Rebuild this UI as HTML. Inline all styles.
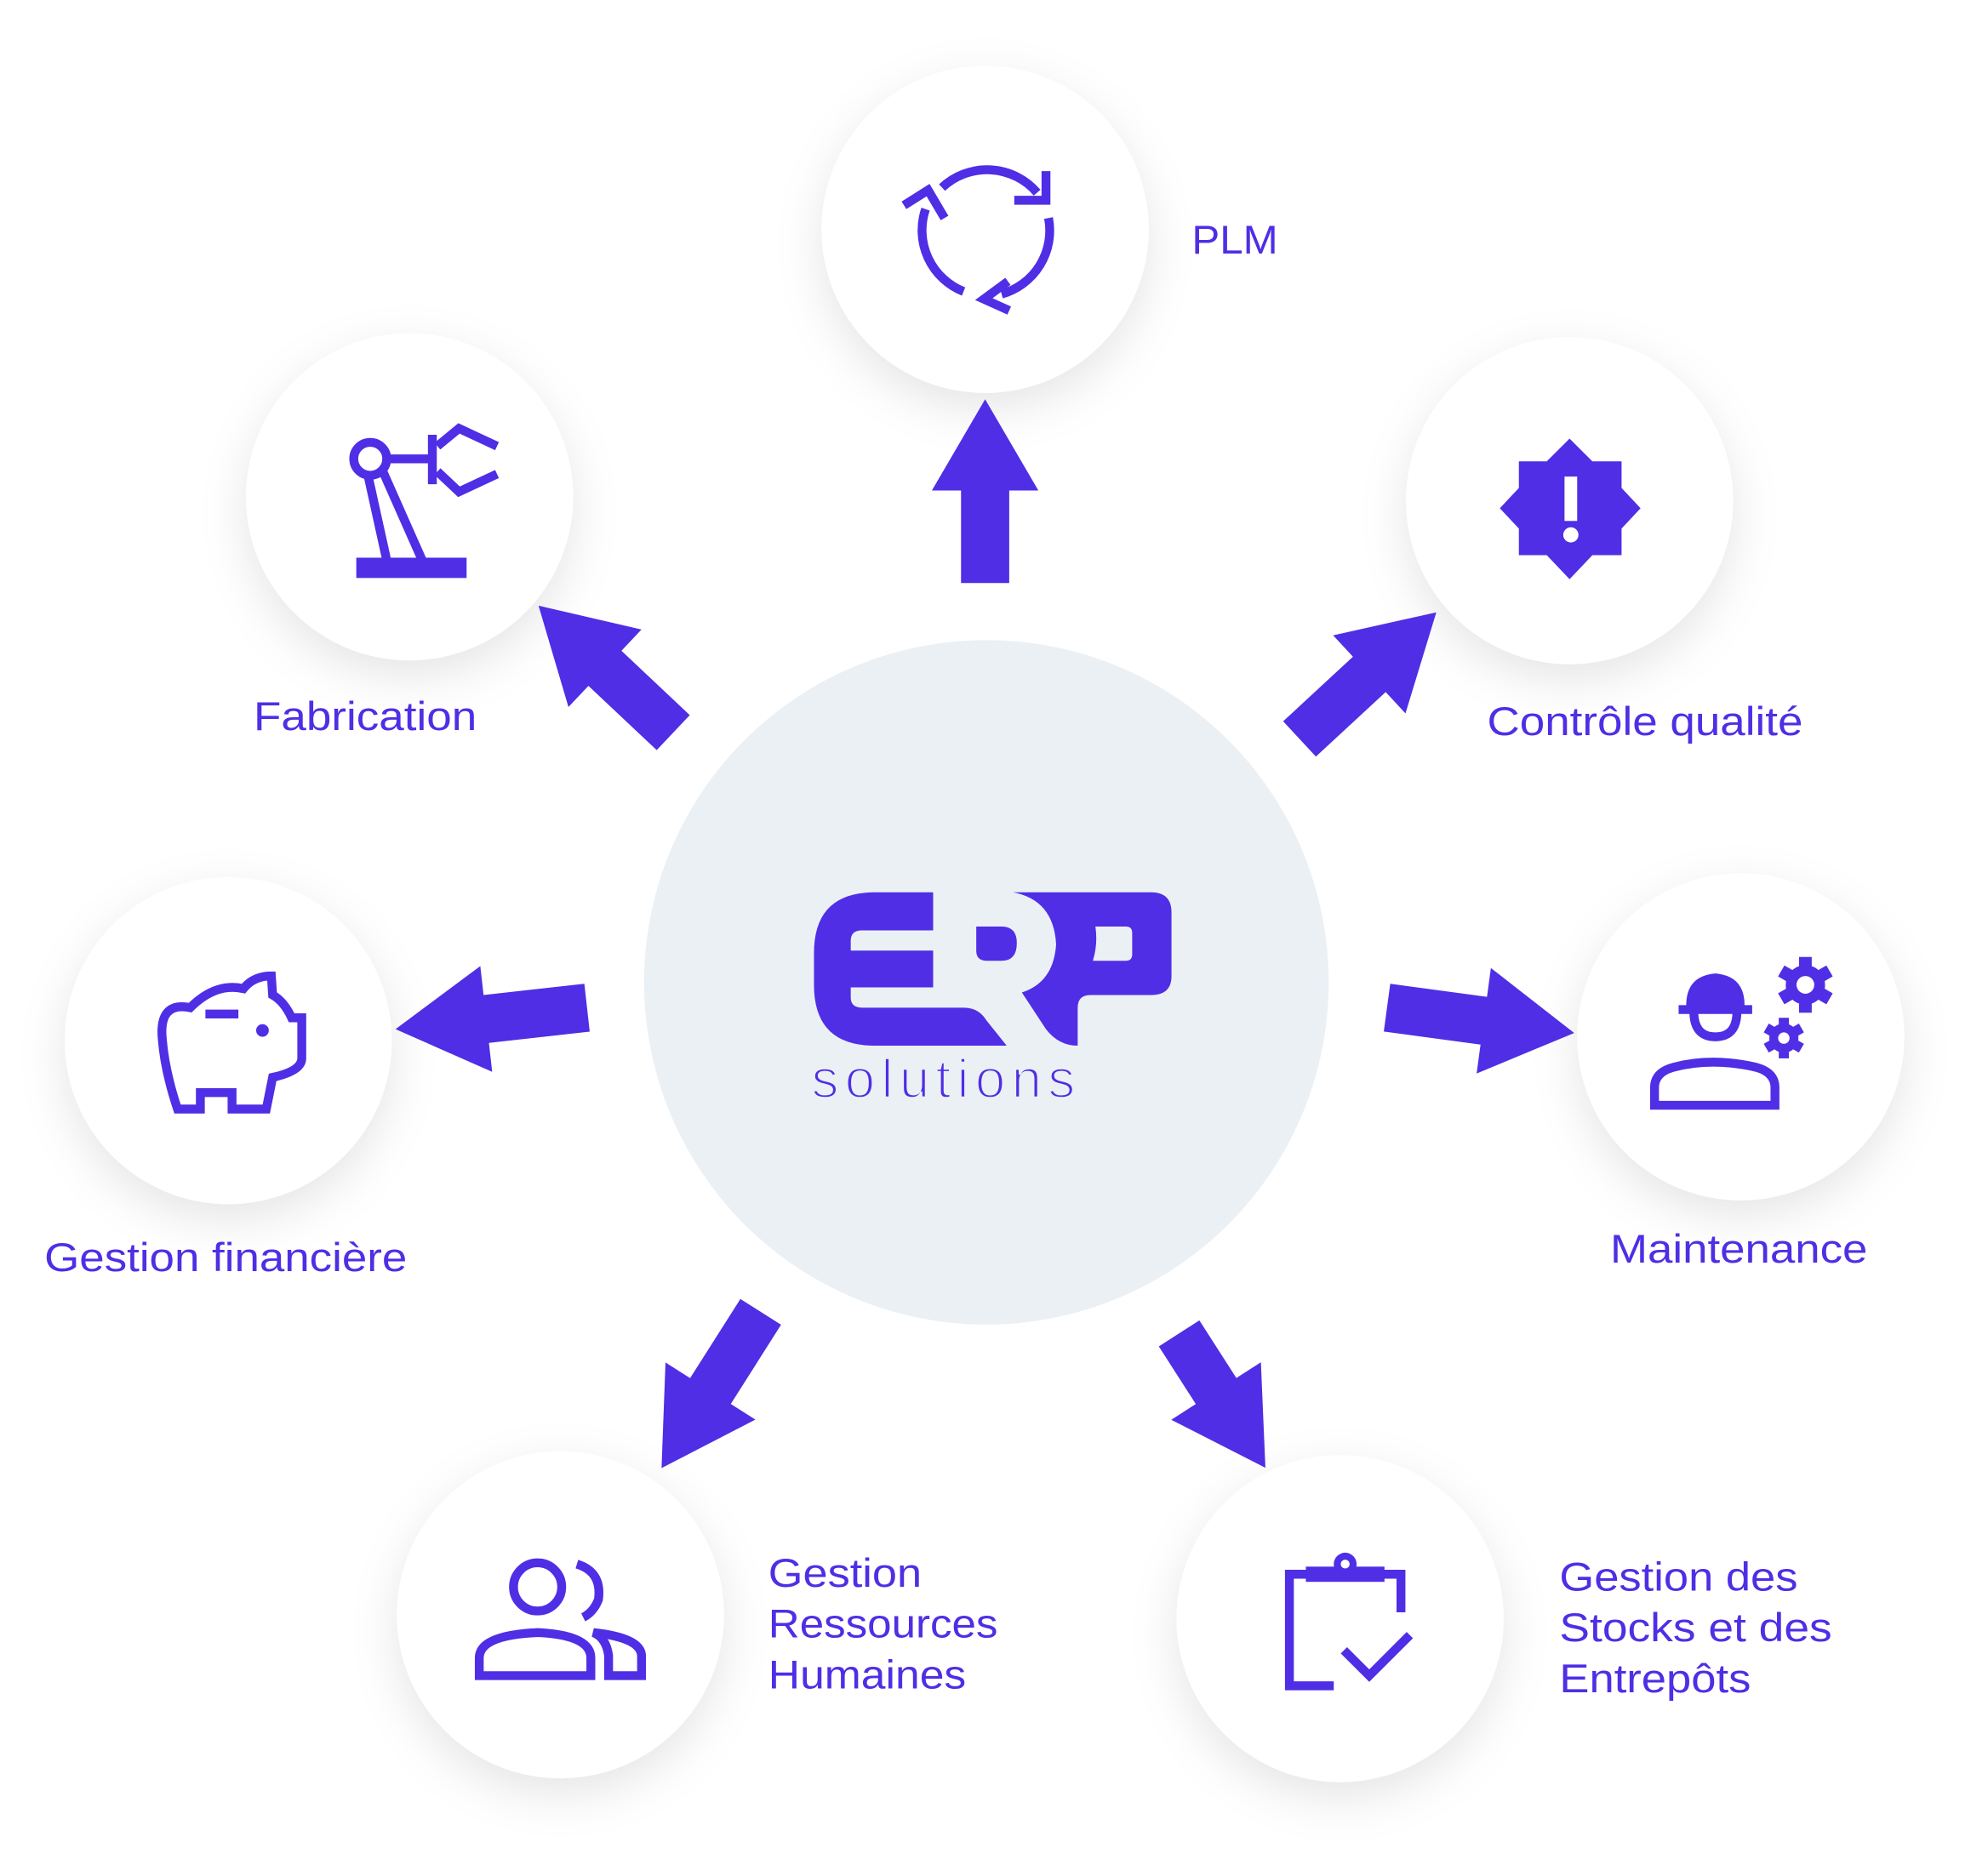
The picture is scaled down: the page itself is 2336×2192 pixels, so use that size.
<!DOCTYPE html>
<html><head><meta charset="utf-8"><style>
html,body{margin:0;padding:0;background:#fff;}
svg{display:block;}
text{font-family:"Liberation Sans",sans-serif;fill:#4F2EE5;}
</style></head><body>
<svg width="2336" height="2192" viewBox="0 0 1568 1471.4" xmlns="http://www.w3.org/2000/svg">
<defs>
<filter id="sh" x="-50%" y="-50%" width="200%" height="200%">
<feDropShadow dx="0" dy="12" stdDeviation="18" flood-color="#000" flood-opacity="0.10"/>
</filter>
</defs>
<circle cx="778" cy="775" r="270" fill="#EBF0F5"/>
<g fill="#fff" filter="url(#sh)">
<circle cx="777" cy="181" r="129"/>
<circle cx="323" cy="392" r="129"/>
<circle cx="1238" cy="395" r="129"/>
<circle cx="180" cy="821" r="129"/>
<circle cx="1373" cy="818" r="129"/>
<circle cx="442" cy="1274" r="129"/>
<circle cx="1057" cy="1277" r="129"/>
</g>
<g fill="#4F2EE5">
<g transform="translate(777,460) rotate(-90)"><polygon points="0,-19 73,-19 73,-42 145,0 73,42 73,19 0,19"/></g>
<g transform="translate(531,578) rotate(-136.7)"><polygon points="0,-19 74,-19 74,-42 146,0 74,42 74,19 0,19"/></g>
<g transform="translate(1025,583) rotate(-42.8)"><polygon points="0,-19 75,-19 75,-42 147,0 75,42 75,19 0,19"/></g>
<g transform="translate(463,795) rotate(173.6)"><polygon points="0,-19 80,-19 80,-42 152,0 80,42 80,19 0,19"/></g>
<g transform="translate(1094,795) rotate(7.7)"><polygon points="0,-19 77,-19 77,-42 149,0 77,42 77,19 0,19"/></g>
<g transform="translate(600,1035) rotate(122.4)"><polygon points="0,-19 74,-19 74,-42 146,0 74,42 74,19 0,19"/></g>
<g transform="translate(930,1052) rotate(57.3)"><polygon points="0,-19 54,-19 54,-42 126,0 54,42 54,19 0,19"/></g>
</g>
<g fill="#4F2EE5">
<path d="M690 704 H736 V734 H680 Q671 734 671 742 V750 H736 V779 H671 V787 Q671 795 680 795 H760 Q772 795 778 805 L794 825 H690 Q642 825 642 777 V752 Q642 704 690 704 Z"/>
<path d="M770 731 H790 Q802 731 802 744 Q802 758 790 758 H778 Q770 758 770 750 Z"/>
<path fill-rule="evenodd" d="M799 704 H908 Q924 704 924 720 V770 Q924 785 908 785 H860 Q850 785 850 795 V825 Q835 825 825 812 L806 783 Q831 775 833 745 Q831 710 799 704 Z M864 731 H888 Q893 731 893 736 V753 Q893 758 888 758 H862 Q866 745 864 731 Z"/>
</g>
<text x="640" y="866" font-size="43" textLength="208" lengthAdjust="spacing" stroke="#EBF0F5" stroke-width="1.6">solutions</text>
<g font-size="32">
<text x="940" y="200" textLength="68" lengthAdjust="spacingAndGlyphs">PLM</text>
<text x="200" y="576" textLength="176" lengthAdjust="spacingAndGlyphs">Fabrication</text>
<text x="1173" y="580" textLength="249" lengthAdjust="spacingAndGlyphs">Contrôle qualité</text>
<text x="35" y="1003" textLength="286" lengthAdjust="spacingAndGlyphs">Gestion financière</text>
<text x="1270" y="996" textLength="203" lengthAdjust="spacingAndGlyphs">Maintenance</text>
<text x="606" y="1252" textLength="121" lengthAdjust="spacingAndGlyphs">Gestion</text>
<text x="606" y="1292" textLength="181" lengthAdjust="spacingAndGlyphs">Ressources</text>
<text x="606" y="1332" textLength="156" lengthAdjust="spacingAndGlyphs">Humaines</text>
<text x="1230" y="1255" textLength="188" lengthAdjust="spacingAndGlyphs">Gestion des</text>
<text x="1230" y="1295" textLength="215" lengthAdjust="spacingAndGlyphs">Stocks et des</text>
<text x="1230" y="1335" textLength="151" lengthAdjust="spacingAndGlyphs">Entrepôts</text>
</g>
<g fill="none" stroke="#4F2EE5" stroke-width="7" stroke-linejoin="miter">
<path d="M743 148 A 52 52 0 0 1 818 152"/>
<path d="M827 172 A 52 52 0 0 1 790 232"/>
<path d="M760 230 A 52 52 0 0 1 730 165"/>
<polyline points="825,135 825,158 800,158"/>
<polyline points="795,222 776,236 796,245"/>
<polyline points="713,162 732,150 745,172"/>
<circle cx="292" cy="362" r="13"/>
<line x1="290" y1="374" x2="305" y2="442"/>
<line x1="302" y1="372" x2="333" y2="442"/>
<line x1="305" y1="362" x2="340" y2="362"/>
<line x1="341" y1="343" x2="341" y2="382"/>
<polyline points="345,352 362,338 392,352"/>
<polyline points="345,372 362,388 392,374"/>
<path d="M150 795 Q125 790 128 820 Q130 845 140 875 H158 V862 H183 V875 H210 L215 850 Q238 845 238 835 V803 H230 Q224 790 215 785 L214 770 Q200 770 192 780 Q170 775 150 795 Z"/>
<line x1="162" y1="800" x2="188" y2="800"/>
<circle cx="424" cy="1252" r="19"/>
<path d="M378 1322 V1308 Q378 1290 424 1288 Q466 1290 466 1308 V1322 Z"/>
<path d="M455 1234 Q475 1240 472 1262 Q468 1272 460 1276"/>
<path d="M480 1322 V1306 Q478 1292 468 1288 Q505 1292 506 1306 V1322 Z"/>
<path d="M1305 872 V858 Q1305 846 1320 842 Q1350 834 1385 842 Q1400 846 1400 858 V872 Z"/>
<path d="M1336 798 Q1336 818 1353 818 Q1370 818 1370 798"/>
<circle cx="1424" cy="777" r="12"/>
<circle cx="1407" cy="819" r="8"/>
<polyline points="1032,1242 1017,1242 1017,1330 1052,1330"/>
<polyline points="1090,1242 1105,1242 1105,1272"/>
<polyline points="1060,1302 1080,1322 1112,1290"/>
</g>
<g fill="#4F2EE5">
<rect x="281" y="440" width="87" height="16"/>
<polygon points="1238,346 1256,364 1279,364 1279,385 1294,401 1279,417 1279,438 1256,438 1238,457 1220,438 1198,438 1198,417 1183,401 1198,385 1198,364 1220,364"/>
<path d="M1330 793 Q1330 770 1353 768 Q1376 770 1376 793 H1382 V800 H1324 V793 Z"/>
<g transform="translate(1424,777)"><rect x="-5" y="-22" width="10" height="44"/><rect x="-5" y="-22" width="10" height="44" transform="rotate(60)"/><rect x="-5" y="-22" width="10" height="44" transform="rotate(120)"/></g>
<g transform="translate(1407,819)"><rect x="-4" y="-16" width="8" height="32"/><rect x="-4" y="-16" width="8" height="32" transform="rotate(60)"/><rect x="-4" y="-16" width="8" height="32" transform="rotate(120)"/></g>
<rect x="1030" y="1236" width="62" height="12"/>
<circle cx="1061" cy="1234" r="9"/>
<circle cx="207" cy="813" r="5"/>
</g>
<g fill="#fff">
<rect x="1234" y="376" width="10" height="35"/>
<circle cx="1239" cy="422" r="6"/>
<circle cx="1424" cy="777" r="7"/>
<circle cx="1407" cy="819" r="4.5"/>
<circle cx="1061" cy="1234" r="3.5"/>
</g>
</svg>
</body></html>
